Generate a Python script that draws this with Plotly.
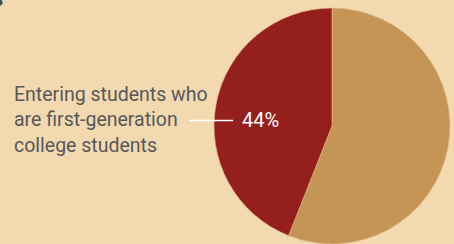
import plotly.graph_objects as go

W, H = 454, 244

labels = ["Not first-generation", "First-generation"]
values = [56, 44]
colors = ["#C59555", "#951F1D"]
callout_text = "Entering students who<br>are first-generation<br>college students"
label_text = f"{values[1]}%"

BG = "#F2D9B0"
TEXT = "#58585A"
FONT = "Roboto, sans-serif"

def px(x):
    return x / W

def py(y):
    return (H - y) / H

fig = go.Figure(go.Pie(
    labels=labels,
    values=values,
    marker=dict(colors=colors, line=dict(color="#E3BE8C", width=0.6)),
    sort=False,
    direction="clockwise",
    rotation=0,
    textinfo="none",
    hoverinfo="label+percent",
    showlegend=False,
    domain=dict(x=[px(332 - 118), px(332 + 118)], y=[0, (236) / H]),
))

fig.add_shape(type="line", xref="paper", yref="paper",
              x0=px(189), x1=px(233), y0=py(120.5), y1=py(120.5),
              line=dict(color="white", width=1.5))

fig.add_annotation(xref="paper", yref="paper", x=px(240), y=py(119.5),
                   xanchor="left", yanchor="middle", showarrow=False,
                   text=label_text, font=dict(family=FONT, size=20, color="white"))

fig.add_annotation(xref="paper", yref="paper", x=px(12), y=py(120),
                   xanchor="left", yanchor="middle", align="left", showarrow=False,
                   text=callout_text, font=dict(family=FONT, size=19.5, color=TEXT))

fig.add_annotation(xref="paper", yref="paper", x=px(5), y=py(13),
                   xanchor="right", yanchor="bottom", showarrow=False,
                   text="<b>s</b>", font=dict(family=FONT, size=22, color="#4A4A4C"))

fig.update_layout(width=W, height=H, margin=dict(l=0, r=0, t=0, b=0),
                  paper_bgcolor=BG, plot_bgcolor=BG)

fig.write_html("out.html", config={"displayModeBar": False},
               post_script="document.body.style.margin='0';document.body.style.overflow='hidden';")
